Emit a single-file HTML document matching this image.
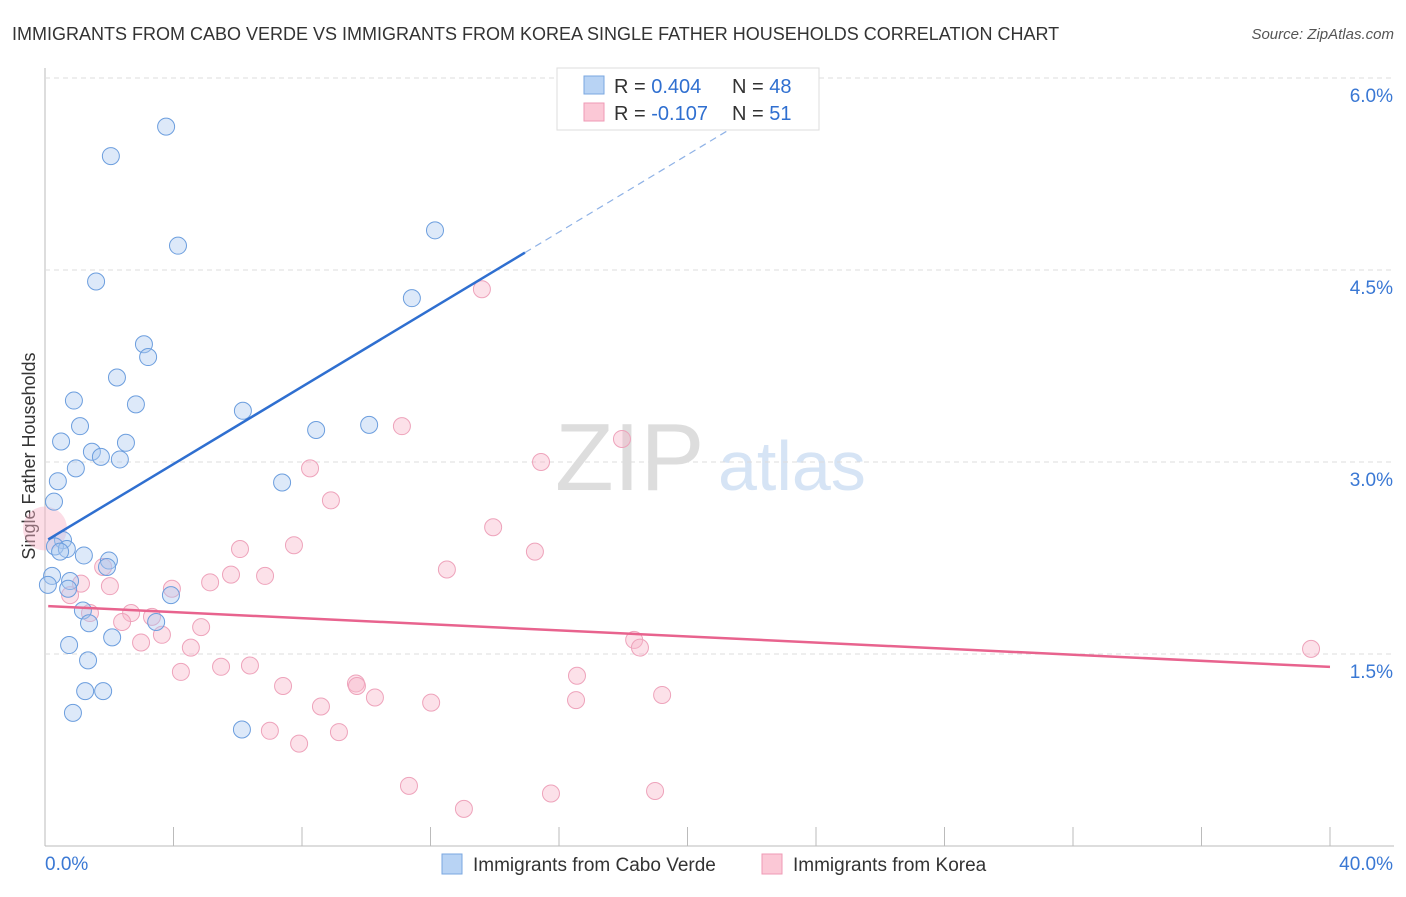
<!DOCTYPE html>
<html><head><meta charset="utf-8"><style>
body{margin:0;background:#fff;font-family:"Liberation Sans",sans-serif}
svg text{font-family:"Liberation Sans",sans-serif}
</style></head><body>
<svg id="c" width="1406" height="892">
<text x="12" y="40" font-size="18" fill="#333">IMMIGRANTS FROM CABO VERDE VS IMMIGRANTS FROM KOREA SINGLE FATHER HOUSEHOLDS CORRELATION CHART</text>
<text x="1394" y="39" font-size="15" fill="#555" font-style="italic" text-anchor="end">Source: ZipAtlas.com</text>
<text x="35" y="456" font-size="18" fill="#333" transform="rotate(-90 35 456)" text-anchor="middle">Single Father Households</text>
<text x="555" y="490" font-size="96" fill="#ddd" font-family="Liberation Serif">ZIP</text>
<text x="718" y="490" font-size="70" fill="#d6e4f5">atlas</text>
<g id="grid"></g><g id="pts"></g><g id="lines"></g>
<g>
<rect x="557" y="68" width="262" height="62" fill="#fff" stroke="#ddd"/>
<rect x="584" y="76" width="20" height="18" fill="#b8d3f4" stroke="#7aa7e0"/>
<rect x="584" y="103" width="20" height="18" fill="#fbc8d6" stroke="#ef9ab5"/>
<text x="614" y="93" font-size="20" fill="#333">R = <tspan fill="#2f6fd0">0.404</tspan></text>
<text x="732" y="93" font-size="20" fill="#333">N = <tspan fill="#2f6fd0">48</tspan></text>
<text x="614" y="120" font-size="20" fill="#333">R = <tspan fill="#2f6fd0">-0.107</tspan></text>
<text x="732" y="120" font-size="20" fill="#333">N = <tspan fill="#2f6fd0"> 51</tspan></text>
</g>
<g>
<rect x="442" y="854" width="20" height="20" fill="#b8d3f4" stroke="#7aa7e0"/>
<text x="473" y="871" font-size="19" fill="#333">Immigrants from Cabo Verde</text>
<rect x="762" y="854" width="20" height="20" fill="#fbc8d6" stroke="#ef9ab5"/>
<text x="793" y="871" font-size="19" fill="#333">Immigrants from Korea</text>
</g>
</svg>
<script>
const xTicks=[0,4,8,12,16,20,24,28,32,36,40];
const yTicks=[1.5,3.0,4.5,6.0];
const yTickLabels=["1.5%","3.0%","4.5%","6.0%"];
const xEndLabels=["0.0%","40.0%"];
const blueX=[3.77,2.05,4.14,12.14,1.59,11.42,3.08,3.21,2.24,0.90,2.83,6.16,1.09,10.09,8.44,0.50,2.52,1.46,1.74,2.33,0.96,0.40,7.38,0.28,0.56,0.31,0.68,0.47,1.21,1.99,1.93,0.22,0.78,0.09,0.72,3.92,1.18,1.37,3.46,2.09,0.75,1.34,1.25,1.81,0.87,6.13];
const blueY=[5.62,5.39,4.69,4.81,4.41,4.28,3.92,3.82,3.66,3.48,3.45,3.40,3.28,3.29,3.25,3.16,3.15,3.08,3.04,3.02,2.95,2.85,2.84,2.69,2.39,2.34,2.32,2.30,2.27,2.23,2.18,2.11,2.07,2.04,2.01,1.96,1.84,1.74,1.75,1.63,1.57,1.45,1.21,1.21,1.04,0.91];
const pinkX=[13.60,11.11,17.96,15.44,8.25,8.90,13.95,7.75,6.07,15.25,12.51,5.79,6.85,1.81,1.12,2.02,5.14,3.95,0.78,1.40,2.68,2.40,3.33,4.86,3.64,2.99,4.54,18.34,18.52,39.41,4.23,5.48,6.38,16.56,7.41,9.68,9.71,10.27,16.53,19.21,8.59,12.02,7.00,9.15,7.91,11.33,15.75,18.99,13.04];
const pinkY=[4.35,3.28,3.18,3.00,2.95,2.70,2.49,2.35,2.32,2.30,2.16,2.12,2.11,2.18,2.05,2.03,2.06,2.01,1.96,1.82,1.82,1.75,1.79,1.71,1.65,1.59,1.55,1.61,1.55,1.54,1.36,1.40,1.41,1.33,1.25,1.27,1.25,1.16,1.14,1.18,1.09,1.12,0.90,0.89,0.80,0.47,0.41,0.43,0.29];
const bigPink=[0,2.48];
const blueFit=[2.38,0.151]; const blueSolidEnd=14.94, blueDashEnd=23.6;
const pinkFit=[1.875,-0.0119];
const NS="http://www.w3.org/2000/svg";
const X=v=>45+v/40*1285, Y=v=>846-v*128;
function mk(t,a,p){const e=document.createElementNS(NS,t);for(const k in a)e.setAttribute(k,a[k]);p.appendChild(e);return e;}
const grid=document.getElementById('grid'),pts=document.getElementById('pts'),lines=document.getElementById('lines');
let ax=mk('line',{x1:45,y1:68,x2:45,y2:846,stroke:'#bbb'},grid);

let bx=mk('line',{x1:45,y1:846,x2:1394,y2:846,stroke:'#bbb'},grid);

yTicks.forEach((v,i)=>{
 let g=mk('line',{x1:45,y1:Y(v),x2:1394,y2:Y(v),stroke:'#ddd','stroke-dasharray':'5,4'},grid);
 
 let t=mk('text',{x:1393,y:Y(v)+24,'font-size':19,fill:'#3a78d4','text-anchor':'end'},grid);t.textContent=yTickLabels[i];
 
});
xTicks.forEach(v=>{let t=mk('line',{x1:X(v),y1:827,x2:X(v),y2:846,stroke:'#bbb'},grid);
 });
let l0=mk('text',{x:45,y:870,'font-size':19,fill:'#3a78d4'},grid);l0.textContent=xEndLabels[0];

let l1=mk('text',{x:1393,y:870,'font-size':19,fill:'#3a78d4','text-anchor':'end'},grid);l1.textContent=xEndLabels[1];

let bp=mk('circle',{cx:X(bigPink[0]),cy:Y(bigPink[1]),r:22,fill:'rgba(248,180,200,0.45)'},pts);

pinkX.forEach((x,i)=>{let c=mk('circle',{cx:X(x),cy:Y(pinkY[i]),r:8.5,fill:'rgba(248,180,200,0.4)',stroke:'#eea3bb','stroke-width':1},pts);
 });
blueX.forEach((x,i)=>{let c=mk('circle',{cx:X(x),cy:Y(blueY[i]),r:8.5,fill:'rgba(170,200,240,0.4)',stroke:'#6c9ede','stroke-width':1},pts);
 });
const bf=v=>blueFit[0]+blueFit[1]*v, pf=v=>pinkFit[0]+pinkFit[1]*v;
let b1=mk('line',{x1:X(0.1),y1:Y(bf(0.1)),x2:X(blueSolidEnd),y2:Y(bf(blueSolidEnd)),stroke:'#2f6fd0','stroke-width':2.5},lines);

let b2=mk('line',{x1:X(blueSolidEnd),y1:Y(bf(blueSolidEnd)),x2:X(blueDashEnd),y2:Y(bf(blueDashEnd)),stroke:'#8fb2e6','stroke-width':1.2,'stroke-dasharray':'7,5'},lines);

let p1=mk('line',{x1:X(0.1),y1:Y(pf(0.1)),x2:X(40),y2:Y(pf(40)),stroke:'#e8638e','stroke-width':2.5},lines);

</script>
</body></html>
